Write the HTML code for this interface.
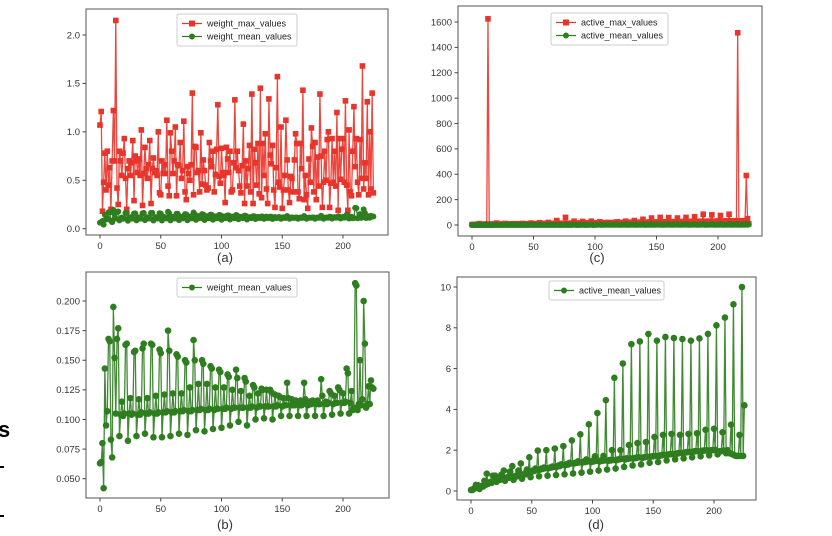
<!DOCTYPE html>
<html><head><meta charset="utf-8">
<style>
html,body{margin:0;padding:0;background:#fff;}
svg{display:block;font-family:"Liberation Sans","DejaVu Sans",sans-serif;}
</style></head>
<body>
<svg id="fig" width="832" height="536" viewBox="0 0 832 536" xmlns="http://www.w3.org/2000/svg">
<rect x="0" y="0" width="832" height="536" fill="#fff"/>
<text x="-2" y="437" font-size="22" font-weight="bold" fill="#000">s</text>
<rect x="0" y="466" width="4" height="2" fill="#000"/>
<rect x="0" y="515" width="4" height="2" fill="#000"/>
</svg>
<script>
// ---------- data ----------
const xTicks = [0, 50, 100, 150, 200];
const tickA = [0.0, 0.5, 1.0, 1.5, 2.0];
const tickALabels = ["0.0", "0.5", "1.0", "1.5", "2.0"];
const tickB = [0.050, 0.075, 0.100, 0.125, 0.150, 0.175, 0.200];
const tickBLabels = ["0.050", "0.075", "0.100", "0.125", "0.150", "0.175", "0.200"];
const tickC = [0, 200, 400, 600, 800, 1000, 1200, 1400, 1600];
const tickCLabels = ["0", "200", "400", "600", "800", "1000", "1200", "1400", "1600"];
const tickD = [0, 2, 4, 6, 8, 10];
const tickDLabels = ["0", "2", "4", "6", "8", "10"];

const weightMax = [
1.07,1.21,0.18,0.48,0.78,0.40,0.80,
0.45,0.63,0.20,0.70,1.22,0.70,2.15,
0.42,0.25,0.80,0.70,0.55,0.78,0.93,
0.52,0.20,0.62,0.70,0.55,0.68,0.91,
0.29,0.75,0.70,0.58,0.72,0.55,1.02,
0.24,0.57,0.84,0.62,0.52,0.66,0.91,
0.26,0.62,0.73,0.58,0.60,0.55,1.00,
0.37,0.35,0.70,0.57,0.66,0.57,1.12,
0.44,0.34,0.99,0.80,0.57,0.70,1.05,
0.34,0.66,0.65,0.89,0.52,0.60,1.11,
0.38,0.30,0.64,0.57,0.50,0.66,1.40,
0.35,0.85,0.84,0.58,0.60,0.38,0.99,
0.46,0.71,0.60,0.45,0.40,0.42,0.89,
0.70,0.64,0.80,0.38,0.56,0.82,1.28,
0.54,0.47,0.83,0.58,0.55,0.27,0.84,
0.72,0.58,0.80,0.38,0.40,0.68,1.33,
0.63,0.80,0.60,0.44,0.37,0.65,1.08,
0.26,0.70,0.44,0.62,0.86,0.38,1.39,
0.26,0.82,0.68,0.45,0.88,0.36,1.45,
0.32,0.88,0.55,0.98,0.41,0.26,1.34,
0.76,0.67,0.86,0.40,0.22,0.63,1.57,
0.48,0.43,1.05,0.21,0.40,0.55,1.12,
0.71,0.40,0.27,0.54,0.52,0.38,0.71,
0.98,0.88,0.38,0.31,0.88,0.62,1.43,
0.30,0.55,0.35,0.21,0.72,0.48,1.04,
0.85,0.38,0.89,0.30,0.74,0.44,1.39,
0.75,0.22,0.48,0.80,0.50,0.92,1.00,
0.22,0.47,0.93,0.48,0.80,0.44,1.20,
0.19,0.93,0.51,0.82,0.93,0.48,1.32,
0.45,0.19,1.02,0.38,0.34,0.80,1.26,
0.64,0.93,0.48,0.35,0.92,0.52,1.68,
0.41,0.68,0.52,1.31,0.35,1.00,0.41,
1.40,0.37];

const weightMean = [
.063,.064,.080,.042,.143,.095,.107,
.168,.166,.083,.068,.195,.152,.105,
.168,.177,.086,.104,.115,.103,.105,
.163,.164,.082,.105,.118,.104,.105,
.157,.158,.086,.104,.117,.104,.106,
.160,.164,.088,.105,.118,.105,.106,
.164,.163,.085,.105,.120,.105,.106,
.159,.156,.085,.106,.121,.106,.107,
.175,.158,.086,.106,.122,.106,.107,
.155,.153,.088,.107,.122,.107,.108,
.150,.148,.087,.107,.127,.107,.108,
.167,.150,.091,.108,.130,.108,.109,
.150,.147,.090,.108,.130,.108,.109,
.145,.143,.092,.108,.127,.109,.109,
.142,.140,.093,.109,.127,.109,.110,
.138,.136,.095,.109,.125,.110,.110,
.142,.135,.098,.110,.124,.110,.110,
.135,.132,.095,.110,.120,.110,.111,
.129,.127,.100,.110,.122,.111,.111,
.126,.125,.101,.111,.125,.111,.111,
.125,.123,.100,.111,.121,.111,.112,
.120,.119,.103,.111,.118,.112,.112,
.131,.118,.103,.112,.117,.112,.112,
.116,.115,.103,.112,.116,.112,.113,
.131,.117,.103,.112,.115,.113,.113,
.116,.115,.103,.113,.116,.113,.113,
.134,.120,.103,.113,.115,.113,.114,
.124,.122,.104,.113,.120,.114,.114,
.127,.125,.105,.114,.122,.114,.115,
.143,.139,.105,.114,.124,.108,.110,
.215,.213,.108,.113,.150,.112,.117,
.200,.164,.110,.113,.128,.113,.133,
.127,.126];

const activeMax = [
3,4,3,5,4,6,10,
5,6,4,7,5,8,1625,
6,5,8,6,7,5,15,
6,7,5,8,6,7,12,
7,6,8,7,9,6,10,
7,8,6,9,7,8,12,
8,7,9,8,10,7,15,
9,8,10,9,11,8,18,
10,9,11,10,12,9,20,
10,11,12,10,13,11,35,
11,12,13,11,14,12,60,
12,13,14,12,15,13,30,
12,14,15,13,16,14,28,
13,14,16,14,17,15,30,
14,15,17,15,18,16,25,
14,16,17,16,19,17,20,
15,17,18,16,20,18,25,
16,18,19,17,21,19,30,
17,19,20,18,22,20,35,
18,20,21,19,23,21,45,
19,21,22,20,24,22,55,
20,22,23,21,25,23,60,
21,23,24,22,26,24,58,
22,24,25,23,27,25,55,
23,25,26,24,28,26,60,
24,26,27,25,29,27,65,
25,27,28,26,30,28,85,
26,28,29,27,31,29,80,
27,29,30,28,32,30,75,
28,30,31,29,33,31,85,
29,31,32,30,34,32,1515,
30,32,33,31,34,33,390,
50,10];

const activeMean = [
.05,.05,.10,.12,.30,.20,.28,
.10,.20,.25,.22,.50,.30,.85,
.35,.40,.45,.40,.75,.50,.75,
.45,.55,.60,.55,.80,.60,1.00,
.50,.62,.68,.65,.95,.70,1.22,
.55,.70,.75,.72,1.00,.78,1.35,
.60,.80,.85,.82,1.05,.88,1.65,
.68,.95,1.00,.98,1.10,1.02,1.98,
.72,1.05,1.10,1.08,1.15,1.12,2.00,
.75,1.12,1.15,1.15,1.20,1.18,2.08,
.78,1.20,1.25,1.22,1.30,1.28,2.20,
.82,1.28,1.32,1.30,1.38,1.35,2.48,
.86,1.35,1.38,1.38,1.45,1.40,2.78,
.90,1.40,1.45,1.42,1.55,1.45,3.27,
.95,1.42,1.48,1.45,1.70,1.48,3.82,
1.00,1.45,1.50,1.48,1.72,1.50,4.45,
1.05,1.48,1.52,1.50,2.00,1.52,5.55,
1.10,1.52,1.55,1.55,2.00,1.58,6.25,
1.18,1.55,1.60,1.58,2.25,1.60,7.20,
1.25,1.60,1.62,1.62,2.35,1.65,7.33,
1.30,1.62,1.65,1.65,2.40,1.68,7.70,
1.38,1.68,1.70,1.70,2.65,1.72,7.37,
1.42,1.72,1.75,1.75,2.75,1.78,7.55,
1.50,1.78,1.80,1.80,2.80,1.82,7.50,
1.55,1.82,1.85,1.85,2.75,1.88,7.45,
1.60,1.88,1.90,1.90,2.80,1.92,7.37,
1.65,1.92,1.95,1.95,2.83,1.95,7.48,
1.70,1.95,1.98,1.98,3.00,2.00,7.70,
1.75,1.98,2.00,2.00,3.05,2.02,8.12,
1.80,1.92,1.95,1.95,2.88,1.98,8.50,
1.85,2.00,1.90,1.85,3.25,1.80,9.15,
1.75,1.72,1.72,1.72,2.75,1.72,10.0,
1.72,4.20];

// ---------- drawing ----------
const NS = 'http://www.w3.org/2000/svg';
const svg = document.getElementById('fig');
const RED = '#e8342a', GREEN = '#2e7d1f';

function mk(tag, attrs, parent) {
  const el = document.createElementNS(NS, tag);
  for (const k in attrs) el.setAttribute(k, attrs[k]);
  (parent || svg).appendChild(el);
  return el;
}
function axis(d0, d1, p0, p1) { return v => p0 + (v - d0) * (p1 - p0) / (d1 - d0); }

function panel(cfg) {
  const g = mk('g', {});
  
  
  const xs = axis(0, 200, cfg.x0, cfg.x200);
  const ys = axis(cfg.yd0, cfg.yd1, cfg.yp0, cfg.yp1);
  // series
  cfg.series.forEach(s => {
    const sg = mk('g', {}, g);
    
    
    const pts = s.data.map((v, i) => xs(i).toFixed(2) + ',' + ys(v).toFixed(2)).join(' ');
    const line = mk('polyline', {points: pts, fill: 'none', stroke: s.color, 'stroke-width': 1.3, 'stroke-opacity': 0.9}, sg);
    
    
    s.data.forEach((v, i) => {
      let m;
      if (s.marker === 'square') {
        m = mk('rect', {x: xs(i) - 2.8, y: ys(v) - 2.8, width: 5.6, height: 5.6, fill: s.color}, sg);
      } else {
        m = mk('circle', {cx: xs(i), cy: ys(v), r: s.r || 3, fill: s.color}, sg);
      }
      
      
    });
  });
  // frame
  const fr = mk('rect', {x: cfg.bx, y: cfg.by, width: cfg.bw, height: cfg.bh, fill: 'none', stroke: '#555', 'stroke-width': 1}, g);
  
  
  // x ticks
  xTicks.forEach(t => {
    const x = xs(t);
    const tk = mk('line', {x1: x, x2: x, y1: cfg.by + cfg.bh, y2: cfg.by + cfg.bh + 3.5, stroke: '#444'}, g);
    
    
    const tl = mk('text', {x: x, y: cfg.by + cfg.bh + 14, 'font-size': 9.5, fill: '#333', 'text-anchor': 'middle'}, g);
    tl.textContent = String(t);
    
    
  });
  // y ticks
  cfg.yt.forEach((t, i) => {
    const y = ys(t);
    const tk = mk('line', {x1: cfg.bx - 3.5, x2: cfg.bx, y1: y, y2: y, stroke: '#444'}, g);
    
    
    const tl = mk('text', {x: cfg.bx - 6, y: y + 3.3, 'font-size': 9.5, fill: '#333', 'text-anchor': 'end'}, g);
    tl.textContent = cfg.ytl[i];
    
    
  });
  // legend
  const lg = mk('g', {}, g);
  
  
  const lb = mk('rect', {x: cfg.lx, y: cfg.ly, width: cfg.lw, height: 6 + 13 * cfg.series.length, rx: 2, fill: '#fff', 'fill-opacity': 0.85, stroke: '#ccc'}, lg);
  
  
  cfg.series.forEach((s, i) => {
    const yy = cfg.ly + 9.5 + 13 * i;
    const ll = mk('line', {x1: cfg.lx + 5, x2: cfg.lx + 25, y1: yy, y2: yy, stroke: s.color, 'stroke-width': 1.3}, lg);
    
    
    let mm;
    if (s.marker === 'square') mm = mk('rect', {x: cfg.lx + 12, y: yy - 3, width: 6, height: 6, fill: s.color}, lg);
    else mm = mk('circle', {cx: cfg.lx + 15, cy: yy, r: 3, fill: s.color}, lg);
    
    
    const lt = mk('text', {x: cfg.lx + 30, y: yy + 3.2, 'font-size': 9, fill: '#222'}, lg);
    lt.textContent = s.name;
    
    
  });
  // caption
  const cap = mk('text', {x: cfg.capx, y: cfg.capy, 'font-size': 13, fill: '#333', 'text-anchor': 'middle'}, g);
  cap.textContent = cfg.cap;
  
  
}

panel({name: 'panel-a-weight', x0: 100, x200: 343, yd0: 0, yd1: 2, yp0: 228.7, yp1: 35,
  bx: 86, by: 9, bw: 302, bh: 226, yt: tickA, ytl: tickALabels,
  lx: 177, ly: 14, lw: 120, cap: '(a)', capx: 225, capy: 262,
  series: [
    {name: 'weight_max_values', data: weightMax, color: RED, marker: 'square'},
    {name: 'weight_mean_values', data: weightMean, color: GREEN, marker: 'circle', r: 3}
  ]});
panel({name: 'panel-b-weight-mean', x0: 100, x200: 343, yd0: 0.05, yd1: 0.2, yp0: 478.7, yp1: 301,
  bx: 86, by: 272, bw: 303, bh: 226, yt: tickB, ytl: tickBLabels,
  lx: 177, ly: 278, lw: 120, cap: '(b)', capx: 225, capy: 529,
  series: [
    {name: 'weight_mean_values', data: weightMean, color: GREEN, marker: 'circle', r: 3.3}
  ]});
panel({name: 'panel-c-active', x0: 472, x200: 718, yd0: 0, yd1: 1600, yp0: 225, yp1: 22,
  bx: 458, by: 6, bw: 304, bh: 230, yt: tickC, ytl: tickCLabels,
  lx: 551, ly: 13, lw: 117, cap: '(c)', capx: 597, capy: 262,
  series: [
    {name: 'active_max_values', data: activeMax, color: RED, marker: 'square'},
    {name: 'active_mean_values', data: activeMean, color: GREEN, marker: 'circle', r: 3}
  ]});
panel({name: 'panel-d-active-mean', x0: 471, x200: 714, yd0: 0, yd1: 10, yp0: 491, yp1: 287,
  bx: 457, by: 277, bw: 299, bh: 223, yt: tickD, ytl: tickDLabels,
  lx: 549, ly: 281, lw: 115, cap: '(d)', capx: 596, capy: 529,
  series: [
    {name: 'active_mean_values', data: activeMean, color: GREEN, marker: 'circle', r: 3.3}
  ]});
</script>
</body></html>
